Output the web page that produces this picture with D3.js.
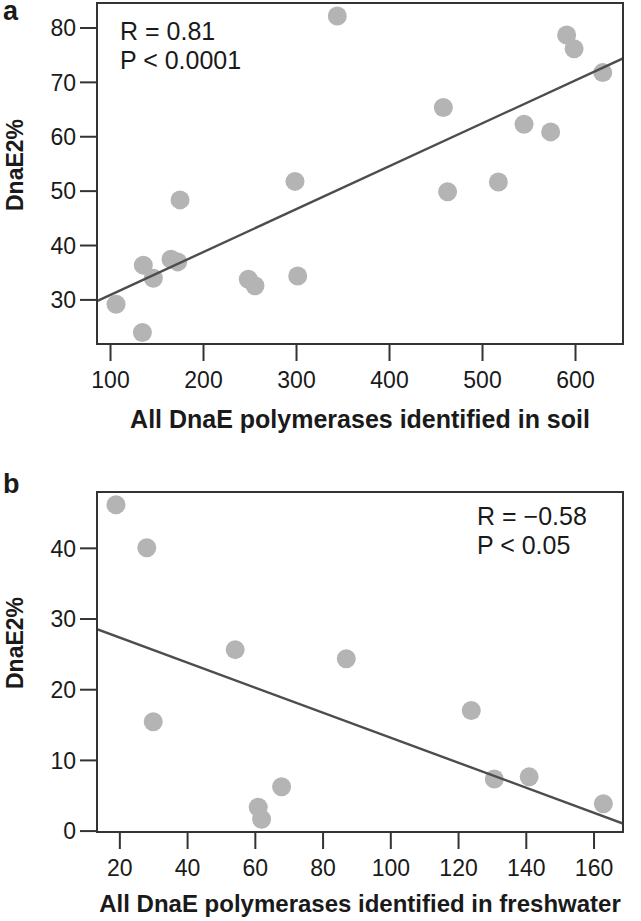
<!DOCTYPE html>
<html>
<head>
<meta charset="utf-8">
<script src="https://cdn.jsdelivr.net/npm/d3@7"></script>
<style>
  body { margin: 0; background: #fff; }
  text { font-family: Arial, "Liberation Sans", Helvetica, sans-serif; fill: #1a1a1a; }
</style>
</head>
<body>
<div id="chart"></div>
<script>
// ---------- data ----------
// panel a: soil
const soilX = [106.5, 134.8, 135.8, 146.6, 165.6, 172.8, 175.3, 248.7, 255.9, 298.9,
               301.8, 344.4, 458.4, 463.0, 517.6, 545.2, 573.8, 591.0, 599.0, 629.8];
const soilY = [29.1, 23.9, 36.3, 33.9, 37.4, 36.9, 48.3, 33.7, 32.5, 51.7,
               34.3, 82.1, 65.3, 49.8, 51.6, 62.2, 60.8, 78.6, 76.1, 71.7];
const soilFit = [22.9, 0.0789];           // intercept, slope
const soilXTicks = [100, 200, 300, 400, 500, 600];
const soilYTicks = [30, 40, 50, 60, 70, 80];
const soilStats = ['R = 0.81', 'P < 0.0001'];

// panel b: freshwater
const fwX = [19.0, 28.1, 30.0, 54.2, 61.0, 62.0, 67.9, 87.0, 123.9, 130.7, 141.0, 162.9];
const fwY = [46.1, 40.0, 15.4, 25.6, 3.3, 1.6, 6.2, 24.3, 17.0, 7.3, 7.6, 3.8];
const fwFit = [30.87, -0.1771];
const fwXTicks = [20, 40, 60, 80, 100, 120, 140, 160];
const fwYTicks = [0, 10, 20, 30, 40];
const fwStats = ['R = \u22120.58', 'P < 0.05'];

const W = 641, H = 921;
const svg = d3.select('#chart').append('svg')
  .attr('width', W).attr('height', H);

function panel(opts) {
  const { top, bottom, xDom, yDom, xs, ys, fit, xTicks, yTicks, stats, statsX, letter, xLabel } = opts;
  const left = 97, right = 623;
  const x = d3.scaleLinear().domain(xDom).range([left, right]);
  const y = d3.scaleLinear().domain(yDom).range([bottom, top]);
  const g = svg.append('g');

  const clipId = 'clip-' + letter;
  g.append('clipPath').attr('id', clipId)
    .append('rect').attr('x', left).attr('y', top)
    .attr('width', right - left).attr('height', bottom - top);

  // points
  g.append('g').selectAll('circle')
    .data(xs.map((v, i) => [v, ys[i]]))
    .join('circle')
    .attr('cx', d => x(d[0]))
    .attr('cy', d => y(d[1]))
    .attr('r', 9.5)
    .attr('fill', '#b4b4b4');

  // regression line
  g.append('line')
    .attr('clip-path', `url(#${clipId})`)
    .attr('x1', x(xDom[0])).attr('y1', y(fit[0] + fit[1] * xDom[0]))
    .attr('x2', x(xDom[1])).attr('y2', y(fit[0] + fit[1] * xDom[1]))
    .attr('stroke', '#4d4d4d')
    .attr('stroke-width', 2.4);

  // frame
  g.append('rect')
    .attr('x', left).attr('y', top)
    .attr('width', right - left).attr('height', bottom - top)
    .attr('fill', 'none').attr('stroke', '#333').attr('stroke-width', 2);

  // axes
  const xAxis = d3.axisBottom(x).tickValues(xTicks).tickSize(17).tickPadding(6).tickSizeOuter(0);
  const yAxis = d3.axisLeft(y).tickValues(yTicks).tickSize(17).tickPadding(4).tickSizeOuter(0);

  const gx = g.append('g').attr('transform', `translate(0,${bottom})`).call(xAxis);
  const gy = g.append('g').attr('transform', `translate(${left},0)`).call(yAxis);
  [gx, gy].forEach(a => {
    a.select('.domain').remove();
    a.selectAll('line').attr('stroke', '#333').attr('stroke-width', 2);
    a.selectAll('text').attr('font-size', 23).attr('fill', '#1a1a1a');
  });
  gx.selectAll('text').attr('dy', null).attr('y', 44);
  gy.selectAll('text').attr('dy', '0.36em');

  // labels
  g.append('text')
    .attr('x', (left + right) / 2).attr('y', bottom + opts.xLabelDy)
    .attr('text-anchor', 'middle')
    .attr('font-size', opts.xLabelSize).attr('font-weight', 'bold')
    .text(xLabel);

  g.append('text')
    .attr('transform', `translate(23,${opts.yLabelMid}) rotate(-90)`)
    .attr('text-anchor', 'middle')
    .attr('font-size', 23).attr('font-weight', 'bold')
    .text('DnaE2%');

  g.append('text')
    .attr('x', 3).attr('y', top + opts.letterDy)
    .attr('font-size', 27).attr('font-weight', 'bold')
    .text(letter);

  stats.forEach((s, i) => {
    g.append('text')
      .attr('x', statsX).attr('y', top + opts.statsDy + i * 29)
      .attr('font-size', 25)
      .text(s);
  });
}

panel({
  top: 3, bottom: 344,
  xDom: [86, 651.6], yDom: [21.8, 84.5],
  xs: soilX, ys: soilY, fit: soilFit,
  xTicks: soilXTicks, yTicks: soilYTicks,
  stats: soilStats, statsX: 120,
  letter: 'a', letterDy: 17, statsDy: 37,
  xLabel: 'All DnaE polymerases identified in soil',
  xLabelSize: 25, xLabelDy: 84, yLabelMid: 165
});

panel({
  top: 492, bottom: 832,
  xDom: [13.4, 168.7], yDom: [-0.2, 47.9],
  xs: fwX, ys: fwY, fit: fwFit,
  xTicks: fwXTicks, yTicks: fwYTicks,
  stats: fwStats, statsX: 477,
  letter: 'b', letterDy: 1, statsDy: 33,
  xLabel: 'All DnaE polymerases identified in freshwater',
  xLabelSize: 24, xLabelDy: 80, yLabelMid: 643
});
</script>
</body>
</html>
